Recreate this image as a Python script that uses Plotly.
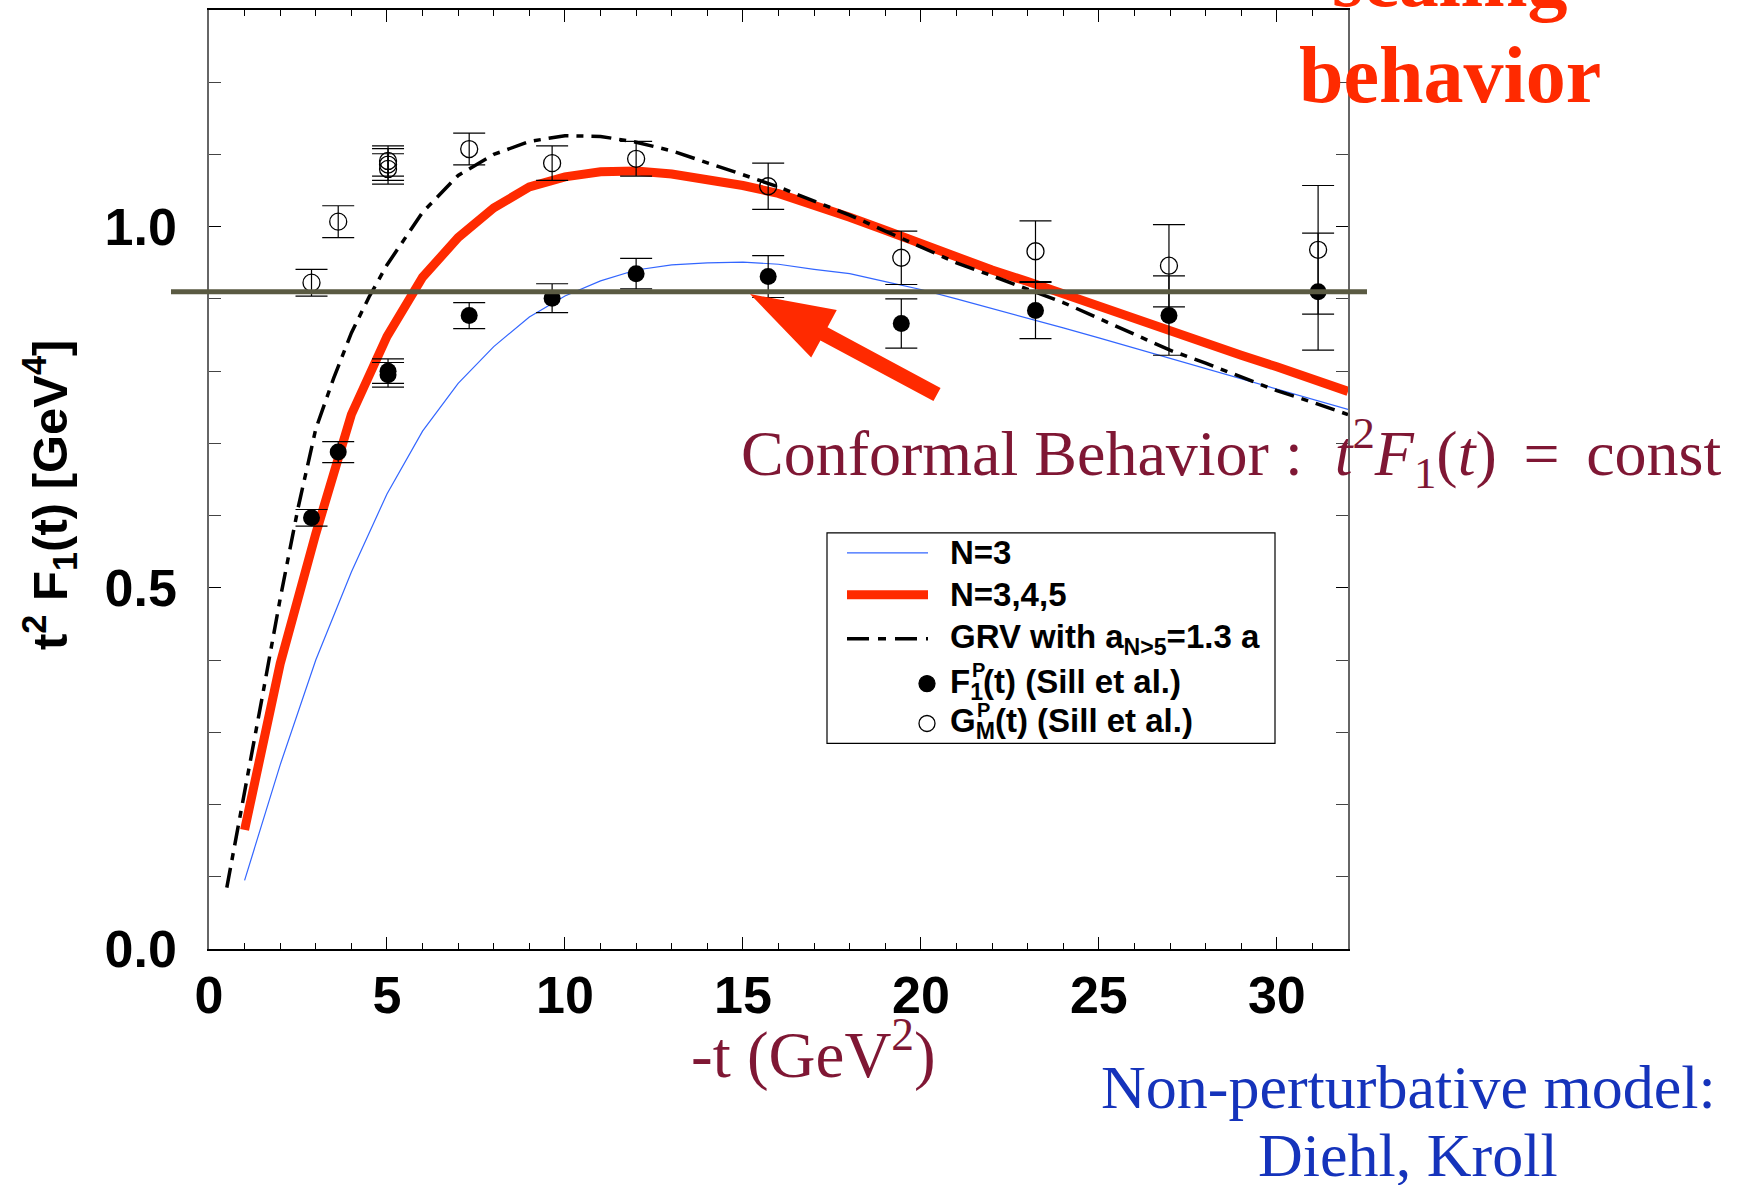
import math
import plotly.graph_objects as go

# ---------------- data ----------------
# model curves, t^2 F1(t) in GeV^4 versus -t in GeV^2
t_n3 = list(range(1, 33))
n3_vals = [0.095, 0.255, 0.400, 0.522, 0.630, 0.717, 0.783, 0.834, 0.875, 0.904,
           0.925, 0.940, 0.947, 0.950, 0.951, 0.948, 0.941, 0.935, 0.924, 0.913,
           0.900, 0.887, 0.873, 0.860, 0.846, 0.832, 0.818, 0.804, 0.790, 0.776,
           0.761, 0.747]

t_n345 = list(range(1, 33))
n345_vals = [0.165, 0.395, 0.575, 0.740, 0.848, 0.930, 0.985, 1.026, 1.055, 1.069,
             1.076, 1.077, 1.073, 1.066, 1.057, 1.046, 1.031, 1.013, 0.995, 0.976,
             0.957, 0.940, 0.924, 0.907, 0.889, 0.870, 0.853, 0.837, 0.822, 0.806,
             0.789, 0.772]

t_grv = [0.5, 1, 1.5, 2, 2.5, 3, 3.5, 4, 4.5] + list(range(5, 33))
grv_vals = [0.085, 0.215, 0.350, 0.485, 0.610, 0.720, 0.790, 0.853, 0.903,
            0.947, 1.020, 1.071, 1.100, 1.118, 1.126, 1.125, 1.117, 1.105, 1.089,
            1.072, 1.055, 1.036, 1.016, 0.994, 0.972, 0.950, 0.932, 0.914, 0.895,
            0.873, 0.851, 0.829, 0.811, 0.792, 0.773, 0.757, 0.740]

# Sill et al. data points
f1_t = [2.88, 3.63, 5.03, 5.03, 7.31, 9.64, 12.00, 15.71, 19.45, 23.22, 26.97, 31.16]
f1_vals = [0.597, 0.688, 0.800, 0.795, 0.877, 0.901, 0.935, 0.931, 0.866, 0.884, 0.877, 0.910]
f1_err = [0.0115, 0.0145, 0.017, 0.017, 0.018, 0.020, 0.021, 0.029, 0.034, 0.039, 0.055, 0.081]

gm_t = [2.88, 3.63, 5.03, 5.03, 5.03, 7.31, 9.64, 12.00, 15.71, 19.45, 23.22, 26.97, 31.16]
gm_vals = [0.9225, 1.007, 1.091, 1.086, 1.080, 1.1075, 1.088, 1.094, 1.056, 0.957, 0.966, 0.946, 0.968]
gm_err = [0.0185, 0.022, 0.021, 0.022, 0.021, 0.022, 0.024, 0.024, 0.032, 0.037, 0.042, 0.057, 0.089]

# conformal limit t^2 F1 = const
CONST = 0.91

x_ticks = [0, 5, 10, 15, 20, 25, 30]
y_ticks = [0.0, 0.5, 1.0]

# ---------------- styling ----------------
W, H = 1740, 1185
ML, MR, MT, MB = 209, 392, 8, 236
PW = W - ML - MR
PH = H - MT - MB
X_RANGE = [0, 32]
Y_RANGE = [0, 1.3]

BLUE = "#3366ff"
RED = "#ff2a00"
MAROON = "#7f1734"
TXTBLUE = "#1533bb"
OLIVE = "#5a5a42"
SANS = "Liberation Sans, Arial, sans-serif"
SERIF = "Liberation Serif, Times New Roman, serif"
DASHDOT = "20px,8px,7px,8px"


def px(X):
    """figure pixel column -> paper x"""
    return (X - ML) / PW


def py(Y):
    """figure pixel row -> paper y"""
    return (H - MB - Y) / PH


fig = go.Figure()

fig.add_trace(go.Scatter(x=t_n3, y=n3_vals, mode="lines",
                         line=dict(color=BLUE, width=1.2), name="N=3"))
fig.add_trace(go.Scatter(x=t_n345, y=n345_vals, mode="lines",
                         line=dict(color=RED, width=9), name="N=3,4,5"))
fig.add_trace(go.Scatter(x=t_grv, y=grv_vals, mode="lines",
                         line=dict(color="black", width=3.5, dash=DASHDOT),
                         name="GRV"))

err_style = dict(type="data", visible=True, color="black", thickness=1.2, width=16)

fig.add_trace(go.Scatter(
    x=f1_t, y=f1_vals, mode="markers", name="F1",
    marker=dict(symbol="circle", size=17, color="black"),
    error_y=dict(array=f1_err, **err_style)))
fig.add_trace(go.Scatter(
    x=gm_t, y=gm_vals, mode="markers", name="GM",
    marker=dict(symbol="circle-open", size=17, color="black", line=dict(width=1.3)),
    error_y=dict(array=gm_err, **err_style)))

shapes = []

# horizontal conformal line, reaching a little past the frame
shapes.append(dict(type="line", xref="paper", yref="y", x0=px(171), x1=px(1367),
                   y0=CONST, y1=CONST, line=dict(color=OLIVE, width=5), layer="above"))

# big red arrow pointing at the conformal line
tip = (750.0, 292.7)
tail = (937.0, 393.3)
head_len, head_w, shaft_w = 84.0, 54.0, 15.0
dx, dy = tail[0] - tip[0], tail[1] - tip[1]
L = math.hypot(dx, dy)
ux, uy = dx / L, dy / L
nx, ny = -uy, ux
bx, by = tip[0] + ux * head_len, tip[1] + uy * head_len
poly = [
    tip,
    (bx + nx * head_w / 2, by + ny * head_w / 2),
    (bx + nx * shaft_w / 2, by + ny * shaft_w / 2),
    (tail[0] + nx * shaft_w / 2, tail[1] + ny * shaft_w / 2),
    (tail[0] - nx * shaft_w / 2, tail[1] - ny * shaft_w / 2),
    (bx - nx * shaft_w / 2, by - ny * shaft_w / 2),
    (bx - nx * head_w / 2, by - ny * head_w / 2),
]
path = "M " + " L ".join(f"{px(X):.5f},{py(Y):.5f}" for X, Y in poly) + " Z"
shapes.append(dict(type="path", xref="paper", yref="paper", path=path,
                   fillcolor=RED, line=dict(width=0), layer="above"))

# legend box
LX0, LX1, LY0, LY1 = 827, 1275, 532, 743
shapes.append(dict(type="rect", xref="paper", yref="paper",
                   x0=px(LX0), x1=px(LX1), y0=py(LY1), y1=py(LY0),
                   line=dict(color="black", width=1.2), fillcolor="white", layer="above"))
rows = [552, 594, 638, 683, 723]
SX0, SX1, MX, TX = 847, 928, 927, 948
shapes.append(dict(type="line", xref="paper", yref="paper", x0=px(SX0), x1=px(SX1),
                   y0=py(rows[0]), y1=py(rows[0]), line=dict(color=BLUE, width=1.2),
                   layer="above"))
shapes.append(dict(type="line", xref="paper", yref="paper", x0=px(SX0), x1=px(SX1),
                   y0=py(rows[1]), y1=py(rows[1]), line=dict(color=RED, width=9),
                   layer="above"))
shapes.append(dict(type="line", xref="paper", yref="paper", x0=px(SX0), x1=px(SX1),
                   y0=py(rows[2]), y1=py(rows[2]),
                   line=dict(color="black", width=3.5, dash="22px,9px,8px,9px"),
                   layer="above"))
for r, filled in ((rows[3], True), (rows[4], False)):
    shapes.append(dict(type="circle", xref="paper", yref="paper",
                       xsizemode="pixel", ysizemode="pixel",
                       xanchor=px(MX), yanchor=py(r), x0=-8, x1=8, y0=-8, y1=8,
                       fillcolor="black" if filled else "white",
                       line=dict(color="black", width=1.3), layer="above"))

annotations = []


def note(text, X, Y, size, color="black", family=SANS, weight="normal",
         xanchor="center", yanchor="middle", angle=0):
    annotations.append(dict(text=text, x=px(X), y=py(Y), xref="paper", yref="paper",
                            showarrow=False, xanchor=xanchor, yanchor=yanchor,
                            textangle=angle,
                            font=dict(family=family, size=size, color=color,
                                      weight=weight)))


LF = 33
note("N=3", TX, rows[0], LF, weight="bold", xanchor="left")
note("N=3,4,5", TX, rows[1], LF, weight="bold", xanchor="left")
note("GRV with a<sub>N&gt;5</sub>=1.3 a", TX, rows[2], LF, weight="bold", xanchor="left")
note("F<sub>1</sub>(t) (Sill et al.)", TX, rows[3], LF, weight="bold", xanchor="left")
note("P", 970, rows[3] - 14, 20, weight="bold", xanchor="left")
note("G<sub>M</sub>(t) (Sill et al.)", TX, rows[4], LF, weight="bold", xanchor="left")
note("P", 975, rows[4] - 14, 20, weight="bold", xanchor="left")

# axis titles
note("t<sup>2</sup> F<sub>1</sub>(t) [GeV<sup>4</sup>]", 50, 494, 49,
     weight="bold", angle=-90)
note("-t (GeV<sup>2</sup>)", 813, 1050, 65, color=MAROON, family=SERIF)

# commentary
note("Conformal Behavior :  <i>t</i><sup>2</sup><i>F</i><sub>1</sub>(<i>t</i>)"
     "\u00a0\u2006=\u00a0\u2006const",
     739, 452, 64, color=MAROON, family=SERIF, xanchor="left")
note("scaling", 1450, -23, 80, color=RED, family=SERIF, weight="bold")
note("behavior", 1450, 73, 80, color=RED, family=SERIF, weight="bold")
note("Non-perturbative model:", 1408, 1087, 62, color=TXTBLUE, family=SERIF)
note("Diehl, Kroll", 1408, 1155, 62, color=TXTBLUE, family=SERIF)

axis_common = dict(showgrid=False, zeroline=False, showline=True, mirror="allticks",
                   ticks="inside", ticklen=12, tickwidth=1.2, tickcolor="black",
                   tickfont=dict(family=SANS, size=52, color="black", weight="bold"))

fig.update_layout(
    width=W, height=H,
    margin=dict(l=ML, r=MR, t=MT, b=MB, pad=0),
    paper_bgcolor="white", plot_bgcolor="white",
    showlegend=False,
    shapes=shapes,
    annotations=annotations,
    xaxis=dict(range=X_RANGE, tickmode="array", tickvals=x_ticks,
               linecolor="black", linewidth=1.5, ticklabelstandoff=0,
               minor=dict(dtick=1, tick0=0, ticks="inside", ticklen=6,
                          tickcolor="black", tickwidth=1),
               **axis_common),
    yaxis=dict(range=Y_RANGE, tickmode="array", tickvals=y_ticks, tickformat=".1f",
               linecolor="#666666", linewidth=1.5, ticklabelstandoff=20,
               minor=dict(dtick=0.1, tick0=0, ticks="inside", ticklen=12,
                          tickcolor="#444444", tickwidth=1),
               **axis_common),
)

fig.write_html("out.html")
